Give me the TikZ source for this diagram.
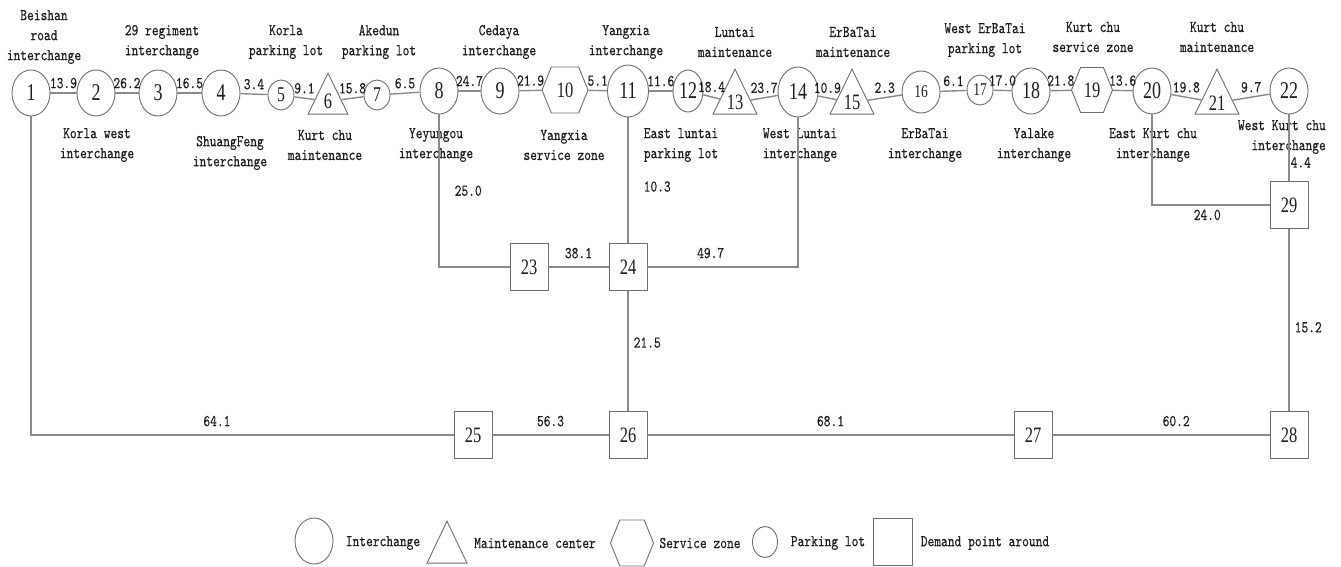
\documentclass[tikz,border=0pt]{standalone}
\usepackage{fontspec}
\setmainfont{Liberation Serif}
\newfontfamily\labfont{lmmono10-regular.otf}[FakeStretch=0.78, FakeBold=0.4]
\newfontfamily\numfont[FakeStretch=0.75]{Liberation Serif}
\usetikzlibrary{shapes.geometric,shapes.symbols}
\definecolor{linegray}{HTML}{8A8A8A}
\definecolor{shapegray}{HTML}{6E6E6E}
\definecolor{textblack}{HTML}{1E1E1E}
\newcommand\numsize[1]{\numfont\fontsize{#1}{#1}\selectfont}
\tikzset{
  road/.style={draw=linegray, line width=1.4pt},
  base/.style={draw=shapegray, line width=0.9pt, inner sep=0pt, text=textblack, font=\numsize{24}},
  inter/.style={base, ellipse, minimum width=38pt, minimum height=46pt},
  park/.style={base, ellipse, minimum width=26pt, minimum height=30pt, font=\numsize{21}},
  maint/.style={base, isosceles triangle, shape border rotate=90, isosceles triangle stretches,
    minimum width=44pt, minimum height=45pt, anchor=apex, font=\numsize{22}},
  serv/.style={base, signal, signal to=east and west, signal pointer angle=136,
    minimum width=46pt, minimum height=46pt, font=\numsize{22}},
  demand/.style={base, rectangle, minimum width=38pt, minimum height=47pt, font=\numsize{22}},
  lab/.style={font=\labfont\fontsize{16.5}{20}\selectfont, text=textblack, align=center, inner sep=1pt}
}
\begin{document}
\begin{tikzpicture}[x=1pt, y=-1pt]
  \useasboundingbox (0,0) rectangle (1341,566);
  % stations along the road
  \node[inter] (1) at (31,93) {1};
  \node[inter] (2) at (96,93) {2};
  \node[inter] (3) at (158,93) {3};
  \node[inter] (4) at (221,93) {4};
  \node[park] (5) at (281,95) {5};
  \node[maint, minimum width=40pt, minimum height=41pt] (6) at (328,72) {6};
  \node[park] (7) at (377,95) {7};
  \node[inter] (8) at (439,91) {8};
  \node[inter] (9) at (500,91) {9};
  \node[serv] (10) at (565,90) {10};
  \node[inter, minimum width=41pt, minimum height=52pt] (11) at (628,91) {11};
  \node[park, minimum width=30pt, minimum height=42pt, font=\numsize{24}] (12) at (688,91) {12};
  \node[maint] (13) at (735,68) {13};
  \node[inter, minimum width=40pt, minimum height=50pt] (14) at (798,92) {14};
  \node[maint] (15) at (852,68) {15};
  \node[inter, minimum height=42pt, font=\numsize{18}] (16) at (921,92) {16};
  \node[park, font=\numsize{18}] (17) at (980,90) {17};
  \node[inter] (18) at (1031,91) {18};
  \node[serv, minimum width=41pt, minimum height=45pt] (19) at (1092,90) {19};
  \node[inter] (20) at (1152,91) {20};
  \node[maint] (21) at (1217,68) {21};
  \node[inter] (22) at (1289,91) {22};
  % demand points
  \node[demand] (23) at (529,267) {23};
  \node[demand] (24) at (628,267) {24};
  \node[demand] (25) at (473,435) {25};
  \node[demand] (26) at (628,435) {26};
  \node[demand] (27) at (1033,435) {27};
  \node[demand] (28) at (1289,435) {28};
  \node[demand] (29) at (1289,205) {29};
  % names
  \node[lab] (t1) at (44,37) {Beishan\\road\\interchange};
  \node[lab] (t2) at (97,145) {Korla west\\interchange};
  \node[lab] (t3) at (162,42) {29 regiment\\interchange};
  \node[lab] (t4) at (230,153) {ShuangFeng\\interchange};
  \node[lab] (t5) at (286,42) {Korla\\parking lot};
  \node[lab] (t6) at (325,145) {Kurt chu\\maintenance};
  \node[lab] (t7) at (379,42) {Akedun\\parking lot};
  \node[lab] (t8) at (436,145) {Yeyungou\\interchange};
  \node[lab] (t9) at (499,42) {Cedaya\\interchange};
  \node[lab] (t10) at (564,145) {Yangxia\\service zone};
  \node[lab] (t11) at (626,42) {Yangxia\\interchange};
  \node[lab] (t12) at (681,145) {East luntai\\parking lot};
  \node[lab] (t13) at (735,42) {Luntai\\maintenance};
  \node[lab] (t14) at (800,145) {West Luntai\\interchange};
  \node[lab] (t15) at (853,42) {ErBaTai\\maintenance};
  \node[lab] (t16) at (925,145) {ErBaTai\\interchange};
  \node[lab] (t17) at (985,40) {West ErBaTai\\parking lot};
  \node[lab] (t18) at (1034,145) {Yalake\\interchange};
  \node[lab] (t19) at (1093,37) {Kurt chu\\service zone};
  \node[lab] (t20) at (1153,145) {East Kurt chu\\interchange};
  \node[lab] (t21) at (1217,37) {Kurt chu\\maintenance};
  \node[lab, anchor=east, align=right] (t22) at (1327,137) {West Kurt chu\\interchange};
  % road sections
  \draw[road] (1) -- node[lab, above=3pt] {13.9} (2);
  \draw[road] (2) -- node[lab, above=3pt] {26.2} (3);
  \draw[road] (3) -- node[lab, above=3pt] {16.5} (4);
  \draw[road] (4) -- node[lab, above=3pt] {3.4} (5);
  \draw[road] (5) -- node[lab, above=3pt] {9.1} (6);
  \draw[road] (6) -- node[lab, above=3pt] {15.8} (7);
  \draw[road] (7) -- node[lab, above=3pt] {6.5} (8);
  \draw[road] (8) -- node[lab, above=3pt] {24.7} (9);
  \draw[road] (9) -- node[lab, above=3pt] {21.9} (10);
  \draw[road] (10) -- node[lab, above=3pt] {5.1} (11);
  \draw[road] (11) -- node[lab, above=3pt] {11.6} (12);
  \draw[road] (12) -- node[lab, above=3pt] {18.4} (13);
  \draw[road] (13) -- node[lab, above=3pt] {23.7} (14);
  \draw[road] (14) -- node[lab, above=3pt] {10.9} (15);
  \draw[road] (15) -- node[lab, above=3pt] {2.3} (16);
  \draw[road] (16) -- node[lab, above=3pt] {6.1} (17);
  \draw[road] (17) -- node[lab, above=3pt] {17.0} (18);
  \draw[road] (18) -- node[lab, above=3pt] {21.8} (19);
  \draw[road] (19) -- node[lab, above=3pt] {13.6} (20);
  \draw[road] (20) -- node[lab, above=3pt] {19.8} (21);
  \draw[road] (21) -- node[lab, above=3pt] {9.7} (22);
  % links to the demand points
  \draw[road] (1) |- node[lab, pos=0.72, above=7pt] {64.1} (25);
  \draw[road] (8) |- node[lab, pos=0.25, right=14pt] {25.0} (23);
  \draw[road] (11) -- node[lab, pos=0.55, right=14pt] {10.3} (24);
  \draw[road] (23) -- node[lab, above=7pt] {38.1} (24);
  \draw[road] (24) -| node[lab, pos=0.21, above=7pt] {49.7} (14);
  \draw[road] (24) -- node[lab, pos=0.43, right=4pt] {21.5} (26);
  \draw[road] (25) -- node[lab, above=7pt] {56.3} (26);
  \draw[road] (26) -- node[lab, above=7pt] {68.1} (27);
  \draw[road] (27) -- node[lab, pos=0.57, above=7pt] {60.2} (28);
  \draw[road] (29) -- node[lab, pos=0.54, right=4pt] {15.2} (28);
  \draw[road] (22) -- node[lab, pos=0.72, right] {4.4} (29);
  \draw[road] (20) |- node[lab, pos=0.735, below=3pt] {24.0} (29);
  % key
  \node[inter] (k1) at (314,541) {};
  \node[lab] (k1t) at (383,543) {Interchange};
  \node[maint, minimum width=40pt, minimum height=42pt] (k2) at (447,520) {};
  \node[lab] (k2t) at (535,543) {Maintenance center};
  \node[serv, minimum width=43pt] (k3) at (632,543) {};
  \node[lab] (k3t) at (700,543) {Service zone};
  \node[park, minimum width=25pt, minimum height=31pt] (k4) at (765,542) {};
  \node[lab] (k4t) at (828,543) {Parking lot};
  \node[demand, minimum width=39pt] (k5) at (893,542) {};
  \node[lab] (k5t) at (985,543) {Demand point around};
\end{tikzpicture}
\end{document}
